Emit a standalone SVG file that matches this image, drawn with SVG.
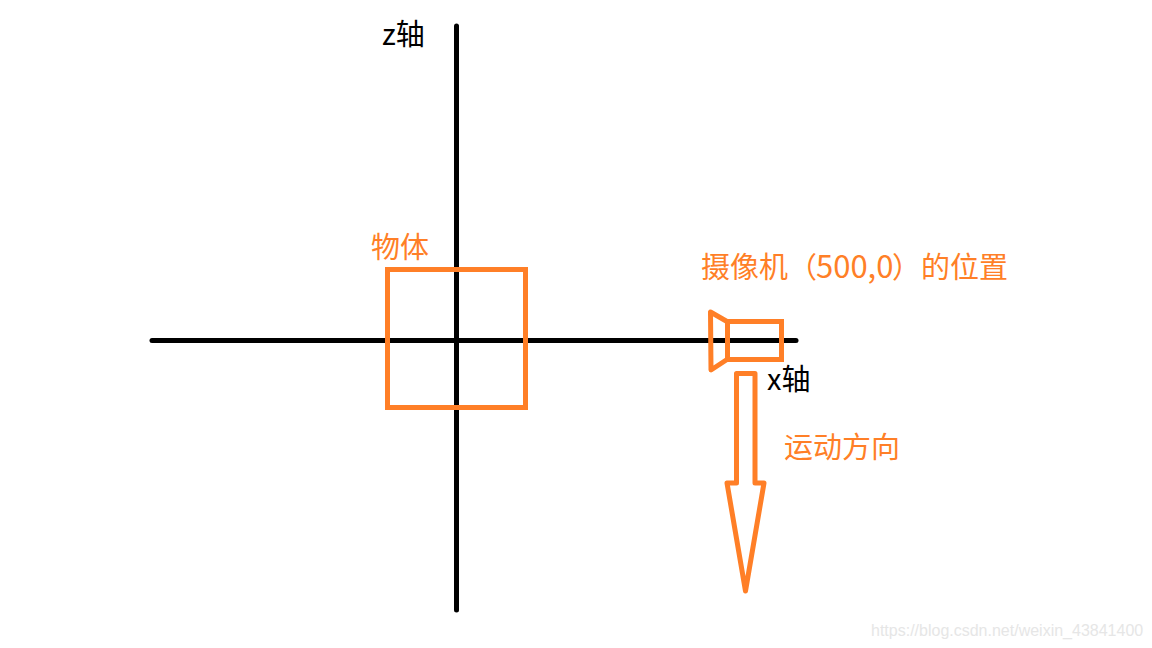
<svg xmlns="http://www.w3.org/2000/svg" width="1152" height="648" viewBox="0 0 1152 648">
<style>
.axis{stroke:#000;stroke-width:5;stroke-linecap:round;fill:none}
.shape{stroke:#ff7f27;stroke-width:5;fill:none;stroke-linejoin:round}
.box{stroke-linejoin:miter}
text{font-family:"Noto Sans CJK SC","Noto Sans",sans-serif;font-size:29px}
.o{fill:#ff7f27}
.k{fill:#000}
.d{font-size:31px}
.wm{font-family:"Liberation Sans",Arial,sans-serif;font-size:16px;fill:#e6e6e6}
</style>
<rect width="1152" height="648" fill="#fff"/>
<g id="connectors">
<line class="axis" x1="456.500" y1="26" x2="456.500" y2="610"/>
<line class="axis" x1="152" y1="340.500" x2="796" y2="340.500"/>
</g>
<g id="object"><rect class="shape box" x="387.500" y="269.500" width="138" height="138"/><text class="o" x="371" y="258">物体</text></g>
<g id="camera"><rect class="shape box" x="727.500" y="321.500" width="54" height="38"/><path class="shape" d="M727 321.500L710.500 312L711 370L727 359.500"/><text class="o" y="278"><tspan x="701">摄像机</tspan><tspan x="788">（</tspan><tspan class="d" x="816">500,0</tspan><tspan x="892">）</tspan><tspan x="921">的位置</tspan></text></g>
<g id="direction"><path class="shape" d="M736.500 483V373.500H755V483H764L745.500 591L727 483Z"/><text class="o" x="784" y="458">运动方向</text></g>
<g id="z-label"><text class="k" x="382" y="45">z轴</text></g>
<g id="x-label"><text class="k" x="767" y="390">x轴</text></g>
<g id="watermark"><text class="wm" x="871" y="636">https://blog.csdn.net/weixin_43841400</text></g>
</svg>
